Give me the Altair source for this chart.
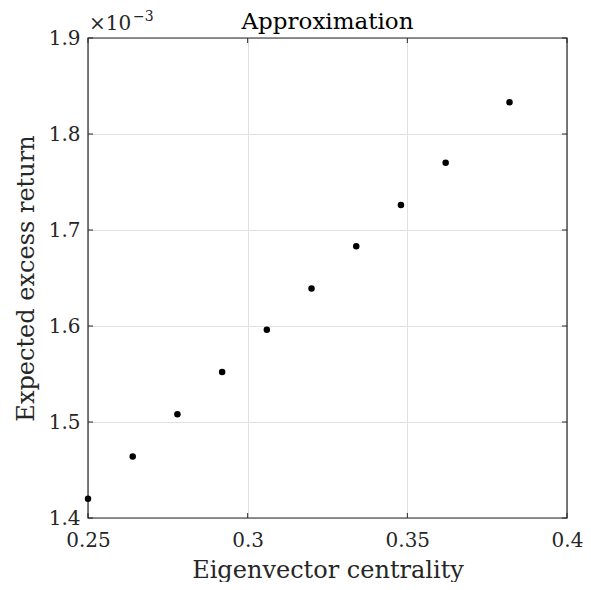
import altair as alt
import pandas as pd

# Data (y in units of 10^-3)
centrality = [0.250, 0.264, 0.278, 0.292, 0.306, 0.320, 0.334, 0.348, 0.362, 0.382]
excess_return = [1.420, 1.464, 1.508, 1.552, 1.596, 1.639, 1.683, 1.726, 1.770, 1.833]
x_ticks = [0.25, 0.30, 0.35, 0.40]
y_ticks = [1.4, 1.5, 1.6, 1.7, 1.8, 1.9]
title_text = "Approximation"

FONT = "DejaVu Serif"
INK = "#262626"
W, H = 479, 480

df = pd.DataFrame({"x": centrality, "y": excess_return})
xt = pd.DataFrame({"x": x_ticks})
yt = pd.DataFrame({"y": y_ticks})

xs = alt.Scale(domain=[0.25, 0.40], nice=False, zero=False)
ys = alt.Scale(domain=[1.4, 1.9], nice=False, zero=False)

xaxis = alt.Axis(
    values=x_ticks, format="~g", title="Eigenvector centrality",
    grid=True, ticks=False, domain=False,
    labelFontSize=20, titleFontSize=24, labelPadding=12, titlePadding=8,
    labelFlush=False)
yaxis = alt.Axis(
    values=y_ticks, format=".1f", title="Expected excess return",
    grid=True, ticks=False, domain=False,
    labelFontSize=20, titleFontSize=24, labelPadding=8, titlePadding=10,
    labelFlush=False)

points = alt.Chart(df).mark_circle(size=42, color="black", opacity=1).encode(
    x=alt.X("x:Q", scale=xs, axis=xaxis),
    y=alt.Y("y:Q", scale=ys, axis=yaxis),
)

frame = alt.Chart(pd.DataFrame({"k": [0]})).mark_rect(
    fill=None, stroke=INK, strokeWidth=1.2
).encode(x=alt.value(0), x2=alt.value(W), y=alt.value(0), y2=alt.value(H))

tick_len = 5
xticks_bottom = alt.Chart(xt).mark_rule(color=INK, strokeWidth=1).encode(
    x=alt.X("x:Q", scale=xs, axis=xaxis), y=alt.value(H), y2=alt.value(H - tick_len))
xticks_top = alt.Chart(xt).mark_rule(color=INK, strokeWidth=1).encode(
    x=alt.X("x:Q", scale=xs, axis=xaxis), y=alt.value(0), y2=alt.value(tick_len))
yticks_left = alt.Chart(yt).mark_rule(color=INK, strokeWidth=1).encode(
    y=alt.Y("y:Q", scale=ys, axis=yaxis), x=alt.value(0), x2=alt.value(tick_len))
yticks_right = alt.Chart(yt).mark_rule(color=INK, strokeWidth=1).encode(
    y=alt.Y("y:Q", scale=ys, axis=yaxis), x=alt.value(W), x2=alt.value(W - tick_len))

mult = alt.Chart(pd.DataFrame({"t": ["×10"]})).mark_text(
    font=FONT, fontSize=20, color=INK, align="left", baseline="alphabetic"
).encode(text="t:N", x=alt.value(1), y=alt.value(-8))
mult_exp = alt.Chart(pd.DataFrame({"t": ["−3"]})).mark_text(
    font=FONT, fontSize=14, color=INK, align="left", baseline="alphabetic"
).encode(text="t:N", x=alt.value(45), y=alt.value(-17))

title = alt.Chart(pd.DataFrame({"t": [title_text]})).mark_text(
    font=FONT, fontSize=23, color="black", align="center", baseline="alphabetic"
).encode(text="t:N", x=alt.value(W / 2), y=alt.value(-9))

chart = alt.layer(
    frame, xticks_bottom, xticks_top, yticks_left, yticks_right, points, mult, mult_exp, title
).properties(
    width=W, height=H,
    background="white",
    autosize=alt.AutoSizeParams(type="none"),
    padding={"left": 80, "top": 30, "right": 16, "bottom": 64},
).configure_view(
    stroke=None
).configure_axis(
    labelFont=FONT, titleFont=FONT, labelColor=INK, titleColor=INK,
    titleFontWeight="normal", gridColor="#e0e0e0", gridWidth=1, gridOpacity=1
)

chart.save("out.html", embed_options={"renderer": "svg", "actions": False})
